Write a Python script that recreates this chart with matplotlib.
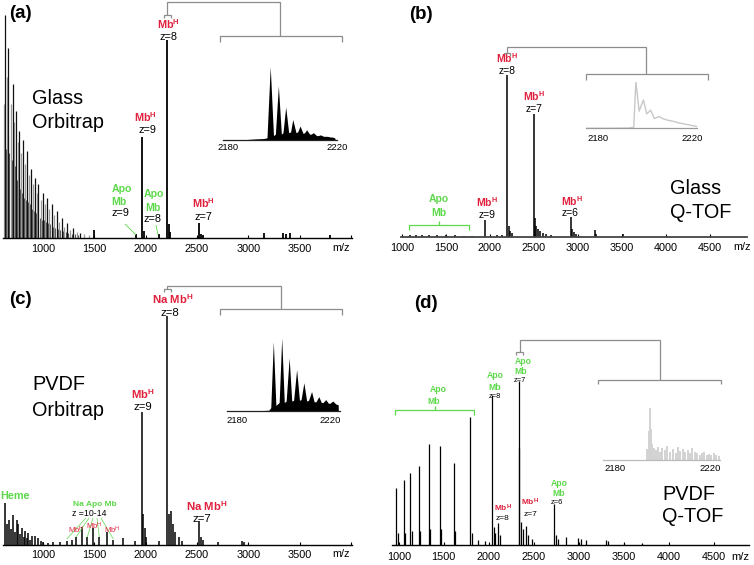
import matplotlib
matplotlib.use('Agg')
import matplotlib.pyplot as plt

plt.rcParams['font.family'] = ['Liberation Sans', 'DejaVu Sans']
plt.rcParams['mathtext.fontset'] = 'custom'
plt.rcParams['mathtext.rm'] = 'Liberation Sans'
plt.rcParams['mathtext.bf'] = 'Liberation Sans:bold'
plt.rcParams['mathtext.it'] = 'Liberation Sans:italic'

# ---------------- data (m/z, relative intensity) ----------------
# Panel (a) Glass Orbitrap
a_major_mz = [630, 662, 705, 737, 769, 808, 841, 880, 922, 954, 1003, 1036, 1085, 1133, 1182, 1231, 1295, 1360]
a_major_int = [100, 85, 69, 57, 48, 44, 39, 31, 27, 24, 20, 18, 15, 12, 9, 6.5, 4.2, 2]
a_minor_mz = [620, 646, 684, 721, 753, 789, 825, 860, 901, 938, 978, 1020, 1060, 1110, 1158, 1206, 1263, 1328, 1400, 1450]
a_minor_int = [60, 72, 60, 52, 43, 38, 33, 28, 24, 20, 17, 15, 13, 10, 7, 5, 3.5, 2.5, 1.5, 1]
a_small_mz = [638, 654, 672, 694, 713, 729, 745, 761, 779, 798, 816, 833, 850, 870, 890, 911, 930, 946, 966, 990,
              1012, 1028, 1048, 1072, 1097, 1121, 1146, 1170, 1194, 1219, 1247, 1280, 1312, 1345]
a_small_int = [40, 45, 38, 35, 30, 32, 26, 24, 22, 20, 18, 17, 16, 15, 13, 12, 11, 10, 9, 8,
               8, 7, 6.5, 6, 5, 4.5, 4, 3.5, 3, 2.5, 2, 1.8, 1.5, 1.2]
a_main_mz = [1500, 1905, 1968, 1985, 2125, 2212, 2225, 2240, 2520, 2535, 2560, 3150, 3340, 3365, 3405, 3790]
a_main_int = [3.4, 1.5, 45.2, 3, 1.5, 88.8, 6, 2.5, 6.6, 1.5, 1.2, 2, 2, 1.5, 2.2, 1.2]

# Panel (b) Glass Q-TOF
b_mz = [1090, 1160, 1230, 1310, 1400, 1500, 1600, 1700, 1790, 1947, 2080, 2140, 2197, 2212, 2230, 2250,
        2497, 2510, 2525, 2545, 2570, 2600, 2640, 2693, 2920, 2935, 2955, 2980, 3190, 3205, 3508]
b_int = [0.8, 0.8, 1, 0.8, 1, 0.8, 0.8, 0.6, 0.6, 9.1, 0.8, 1, 88, 6, 3, 2,
         67, 10, 6, 4, 3, 2, 1.5, 1, 11, 4, 2.5, 1.5, 3.6, 1.5, 1.3]

# Panel (c) PVDF Orbitrap
c_mz = [630, 645, 672, 690, 711, 725, 744, 760, 775, 793, 810, 825, 840, 857, 875, 890, 922, 954, 985,
        1003, 1050, 1100, 1166, 1231, 1279, 1321, 1377, 1431, 1490, 1548, 1620, 1685, 1782, 1896,
        1968, 1978, 1990, 2005, 2130, 2212, 2230, 2250, 2270, 2290, 2320, 2350,
        2520, 2540, 2560, 2700, 2940, 2960]
c_int = [16.2, 8, 9.7, 6, 11.7, 5, 9.7, 8, 4, 6.5, 3, 5.2, 2.5, 4.5, 2, 3.5, 3.4, 2.5, 1.5,
         1, 0.8, 1, 1.2, 1.5, 2, 3, 7, 3, 6.5, 3, 5, 2, 2.5, 1.5,
         51.6, 12, 6.5, 3, 1.5, 89, 12, 13, 8, 5, 3, 1.5,
         9.1, 3, 2, 1, 1.5, 1]

# Panel (d) PVDF Q-TOF
d_mz = [973, 990, 1055, 1070, 1129, 1145, 1222, 1240, 1333, 1350, 1455, 1475, 1611, 1630, 1796, 1815,
        1880, 1960, 2037, 2055, 2075, 2103, 2120, 2333, 2340, 2355, 2380, 2418, 2440, 2480,
        2729, 2745, 2770, 2860, 2990, 3030, 3080, 3300, 3330, 3500, 3700]
d_int = [29.1, 6, 33.3, 6, 37.1, 7, 40.7, 7, 51.6, 8, 50.9, 8, 41.9, 7, 65.8, 6,
         2.5, 2, 76.9, 9, 6, 11.1, 5, 84, 50, 12, 8, 9.7, 5, 3,
         21, 5, 3, 4, 3.4, 3, 2.5, 2.6, 2, 1.2, 0.8]

# Insets (zoom on the z=8 isotope envelope)
ins_a_mz = [2178, 2186, 2190, 2193, 2194.3, 2195.5, 2196.7, 2197.4, 2198.5, 2199.6, 2200.2, 2201.2, 2202.3,
            2203.0, 2203.8, 2205.0, 2205.6, 2206.5, 2207.6, 2208.2, 2208.9, 2210.0, 2210.6, 2211.4,
            2212.6, 2213.2, 2214.0, 2215.2, 2216.0, 2216.6, 2217.8, 2218.4, 2219.2, 2219.6]
ins_a_int = [0, 0.5, 1.5, 2, 3, 100, 6, 8, 74, 8, 10, 45, 10, 11, 28, 10, 11, 19, 9, 10, 14, 8, 8, 10,
             6, 6, 7, 5, 5, 5, 4, 4, 3, 0]

ins_b_mz = [2175.2, 2185, 2193, 2195.3, 2196.2, 2197.6, 2199.4, 2200.8, 2202.5, 2204.0, 2206.0,
            2208.0, 2210.0, 2212.0, 2214.0, 2216.0, 2218.0, 2220.0, 2222.0]
ins_b_int = [0, 0, 0.5, 2, 100, 37, 61, 31, 39, 21, 25, 20, 17, 15, 12, 10, 8, 6, 4]

ins_c_mz = [2175.7, 2185, 2190, 2193.8, 2194.6, 2195.7, 2196.8, 2197.5, 2198.2, 2199.3, 2200.4, 2201.2,
            2202.5, 2203.6, 2204.4, 2205.7, 2206.9, 2207.6, 2208.8, 2210.0, 2210.8, 2212.1, 2213.2,
            2214.0, 2215.2, 2216.3, 2217.0, 2218.2, 2219.3, 2220.0, 2221.2, 2222.5, 2223.5, 2223.6]
ins_c_int = [0, 0.3, 0.8, 1.5, 5, 95, 8, 10, 12, 100, 12, 14, 73, 14, 15, 57, 15, 16, 39, 14, 15, 27,
             13, 13, 20, 12, 12, 16, 11, 11, 14, 10, 9, 0]

ins_d_mz = [2193.5, 2194.2, 2194.6, 2195.2, 2195.8, 2196.5, 2197.3, 2198.0, 2199.0, 2200.0, 2201.0,
            2202.0, 2203.0, 2204.2, 2205.5, 2206.5, 2207.5, 2208.5, 2209.5, 2210.5, 2211.5, 2212.5,
            2213.5, 2214.5, 2215.5, 2216.5, 2217.5, 2218.5, 2219.5, 2220.5, 2221.5, 2222.5, 2223.5]
ins_d_int = [20, 55, 100, 60, 30, 22, 18, 25, 14, 22, 18, 26, 15, 20, 12, 24, 16, 20, 14, 18, 12, 22,
             15, 13, 10, 12, 14, 9, 11, 10, 13, 9, 8]

ticks_orbi = [1000, 1500, 2000, 2500, 3000, 3500, 4000]
ticks_qtof = [1000, 1500, 2000, 2500, 3000, 3500, 4000, 4500]
ins_ticks = [2180, 2220]

# ---------------- layout helpers ----------------
W, H = 754, 565
fig = plt.figure(figsize=(W / 100, H / 100), dpi=100)

RED = '#e0203c'
GREEN = '#5cd84a'
GRAY = '#8c8c8c'


def rect(x0, x1, ybase, ytop):
    return [x0 / W, 1 - ybase / H, (x1 - x0) / W, (ybase - ytop) / H]


def main_axes(x0, x1, base, top, xlim, ticks, labeled, pad):
    ax = fig.add_axes(rect(x0, x1, base, top))
    ax.patch.set_alpha(0)
    ax.set_xlim(xlim)
    ax.set_ylim(0, 100)
    for s in ['top', 'right', 'left']:
        ax.spines[s].set_visible(False)
    ax.spines['bottom'].set_linewidth(1.0)
    ax.set_yticks([])
    ax.set_xticks(ticks)
    ax.set_xticklabels([str(t) if t in labeled else '' for t in ticks])
    ax.tick_params(axis='x', direction='in', length=2.5, width=0.8, pad=pad, labelsize=7.8)
    return ax


def inset_axes(x0, x1, base, top, xlim, pad, spine_color):
    ax = fig.add_axes(rect(x0, x1, base, top))
    ax.patch.set_alpha(0)
    ax.set_xlim(xlim)
    ax.set_ylim(0, 100)
    for s in ['top', 'right', 'left']:
        ax.spines[s].set_visible(False)
    ax.spines['bottom'].set_color(spine_color)
    ax.spines['bottom'].set_linewidth(0.9)
    ax.set_yticks([])
    ax.set_xticks(ins_ticks)
    ax.tick_params(axis='x', length=0, pad=pad, labelsize=6.8)
    return ax


# ---------------- panel (a) ----------------
ax_a = main_axes(3.3, 352, 237.7, 15, (613, 4009), ticks_orbi, ticks_orbi[:-1], 4.5)
ax_a.vlines(a_small_mz, 0, a_small_int, colors='#555555', linewidth=0.8, clip_on=False)
ax_a.vlines(a_minor_mz, 0, a_minor_int, colors='#9a9a9a', linewidth=0.9, clip_on=False)
ax_a.vlines(a_major_mz, 0, a_major_int, colors='#111111', linewidth=0.9, clip_on=False)
ax_a.vlines(a_main_mz, 0, a_main_int, colors='black', linewidth=1.3, clip_on=False)

ia = inset_axes(223.3, 336.7, 140, 66.7, (2178.2, 2220), 2.2, '#222222')
ia.fill_between(ins_a_mz, 0, ins_a_int, color='black', linewidth=0)

# ---------------- panel (b) ----------------
ax_b = main_axes(401, 747, 236.7, 53.3, (989, 4920), ticks_qtof, ticks_qtof, 4.5)
ax_b.spines['bottom'].set_color('#444444')
ax_b.spines['bottom'].set_linewidth(1.3)
ax_b.vlines(b_mz, 0, b_int, colors='black', linewidth=1.1, clip_on=False)

ib = inset_axes(586.3, 697, 128.3, 81.7, (2175.2, 2222.1), 4.1, '#999999')
ib.plot(ins_b_mz, ins_b_int, color='#c8c8c8', linewidth=1.0)

# ---------------- panel (c) ----------------
ax_c = main_axes(3.3, 352, 544.7, 288, (613, 4009), ticks_orbi, ticks_orbi[:-1], 3.7)
ax_c.vlines(c_mz, 0, c_int, colors='black', linewidth=1.1, clip_on=False)

ic = inset_axes(226.7, 340, 411.3, 338, (2175.7, 2224.3), 3.4, '#222222')
ic.fill_between(ins_c_mz, 0, ins_c_int, color='black', linewidth=0)

# ---------------- panel (d) ----------------
ax_d = main_axes(392, 748.7, 545, 350, (925, 4889), ticks_qtof, ticks_qtof, 4.8)
ax_d.vlines(d_mz, 0, d_int, colors='black', linewidth=0.9, clip_on=False)

idd = inset_axes(603, 720.3, 459.7, 408, (2175.1, 2224.2), 3.3, '#bbbbbb')
idd.vlines(ins_d_mz, 0, ins_d_int, colors='#d2d2d2', linewidth=1.4)

# ---------------- overlay annotations (pixel coordinates) ----------------
ov = fig.add_axes([0, 0, 1, 1])
ov.set_xlim(0, W)
ov.set_ylim(H, 0)
ov.axis('off')
ov.patch.set_alpha(0)
ov.set_zorder(10)


def T(x, y, s, color='black', size=7.8, weight='normal', ha='center', va='center'):
    ov.text(x, y, s, color=color, fontsize=size, fontweight=weight, ha=ha, va=va)


def LAB(x, y_top, top_text, top_color, bottom_text, size, gap, weight='bold', xb=None):
    """Two-line label: coloured species name above a black charge state."""
    ov.text(x, y_top, top_text, color=top_color, fontsize=size, fontweight=weight,
            ha='center', va='baseline')
    ov.text(x if xb is None else xb, y_top + gap, bottom_text, color='black', fontsize=size,
            ha='center', va='baseline')


def L(pts, color=GRAY, lw=0.9):
    ov.plot([p[0] for p in pts], [p[1] for p in pts], color=color, linewidth=lw,
            solid_capstyle='butt', solid_joinstyle='miter')


MBH = r'Mb$^{\mathbf{H}}$'
NAMBH = r'Na Mb$^{\mathbf{H}}$'

# (a)
T(9, 13, '(a)', size=13.5, weight='bold', ha='left')
T(32, 99, 'Glass', size=14.3, ha='left')
T(32, 122, 'Orbitrap', size=14.3, ha='left')
LAB(168, 29, MBH, RED, 'z=8', 7.8, 11)
LAB(145, 122, MBH, RED, 'z=9', 7.8, 11, xb=147)
T(122, 189, 'Apo', GREEN, 7.6, 'bold')
T(119, 202, 'Mb', GREEN, 7.6, 'bold')
T(120, 213, 'z=9')
T(154, 194, 'Apo', GREEN, 7.6, 'bold')
T(153, 208, 'Mb', GREEN, 7.6, 'bold')
T(153, 219, 'z=8')
LAB(203, 208, MBH, RED, 'z=7', 7.8, 12)
T(341, 248.3, 'm/z', size=7.8)
L([(125, 224), (136, 235)], GREEN, 0.6)
L([(156, 225), (158, 235)], GREEN, 0.6)
L([(164, 17.5), (164, 15), (170.5, 15), (170.5, 17.5)])
L([(167, 15), (167, 2), (280, 2), (280, 36)])
L([(220, 42), (220, 36), (342, 36), (342, 42)])

# (b)
T(409, 14.5, '(b)', size=13.5, weight='bold', ha='left')
T(670, 188, 'Glass', size=14.3, ha='left')
T(670, 213, 'Q-TOF', size=14.3, ha='left')
LAB(507, 63, MBH, RED, 'z=8', 7.5, 11.5)
LAB(534, 101, MBH, RED, 'z=7', 7.5, 11.5)
LAB(487, 207, MBH, RED, 'z=9', 7.5, 11)
LAB(572, 206, MBH, RED, 'z=6', 7.5, 10, xb=570)
T(439, 199, 'Apo', GREEN, 7.5, 'bold')
T(439, 213, 'Mb', GREEN, 7.5, 'bold')
T(742, 247.3, 'm/z', size=7.8)
L([(409, 229.5), (409, 224.5), (469, 224.5), (469, 229.5)], GREEN, 0.9)
L([(439, 224.5), (439, 221)], GREEN, 0.9)
L([(504, 56), (504, 53.3), (510, 53.3), (510, 56)])
L([(507, 53.3), (507, 47.3), (646, 47.3), (646, 74)])
L([(586, 80), (586, 74), (708, 74), (708, 80)])

# (c)
T(9, 299, '(c)', size=13.5, weight='bold', ha='left')
T(32, 385, 'PVDF', size=14.3, ha='left')
T(32, 411, 'Orbitrap', size=14.3, ha='left')
LAB(173, 304, NAMBH, RED, 'z=8', 8.2, 11.5, xb=170)
LAB(143, 399, MBH, RED, 'z=9', 8.2, 11)
LAB(207, 511, NAMBH, RED, 'z=7', 8.2, 11, xb=202)
T(0, 496, 'Heme', GREEN, 7.8, 'bold', ha='left')
T(95, 504, 'Na Apo Mb', GREEN, 6.0, 'bold')
T(89, 513, 'z =10-14', size=6.3)
T(76, 530, r'Mb$^{\mathrm{H}}$', RED, 5.5)
T(94, 526, r'Mb$^{\mathrm{H}}$', RED, 5.5)
T(112, 530, r'Mb$^{\mathrm{H}}$', RED, 5.5)
T(341, 554, 'm/z', size=7.8)
for (x_start, x_end, y_end) in [(86, 66.7, 539), (89, 76, 537), (93, 87.3, 537), (97, 99.3, 537), (101, 113.3, 539)]:
    L([(x_start, 518), (x_end, y_end)], GREEN, 0.5)
L([(164, 292), (164, 289), (170.5, 289), (170.5, 292)])
L([(167.3, 289), (167.3, 286), (281, 286), (281, 309)])
L([(220, 315), (220, 309), (342, 309), (342, 315)])

# (d)
T(414, 303, '(d)', size=13.5, weight='bold', ha='left')
T(662, 494, 'PVDF', size=14.3, ha='left')
T(662, 516, 'Q-TOF', size=14.3, ha='left')
T(438, 390, 'Apo', GREEN, 6.2, 'bold')
T(434, 401, 'Mb', GREEN, 6.2, 'bold')
L([(395, 414.7), (395, 409.7), (474, 409.7), (474, 414.7)], GREEN, 0.9)
L([(435, 409.7), (435, 405.7)], GREEN, 0.9)
T(495, 376, 'Apo', GREEN, 6.2, 'bold')
T(495, 388, 'Mb', GREEN, 6.2, 'bold')
T(495, 396.5, 'z=8', size=5.4)
T(523, 361, 'Apo', GREEN, 6.2, 'bold')
T(521, 372, 'Mb', GREEN, 6.2, 'bold')
T(520, 380.5, 'z=7', size=5.4)
LAB(503, 511, MBH, RED, 'z=8', 6.0, 9.5)
LAB(530, 506, MBH, RED, 'z=7', 6.0, 9.5)
T(559, 483, 'Apo', GREEN, 6.2, 'bold')
T(559, 494, 'Mb', GREEN, 6.2, 'bold')
T(557, 502.5, 'z=6', size=5.4)
T(740, 557, 'm/z', size=8)
L([(516.3, 354.7), (516.3, 352.3), (522.7, 352.3), (522.7, 354.7)])
L([(519.7, 352.3), (519.7, 340.3), (659.7, 340.3), (659.7, 379.7)])
L([(597.7, 384), (597.7, 379.7), (721.3, 379.7), (721.3, 384)])

fig.savefig('out.png', dpi=100)
